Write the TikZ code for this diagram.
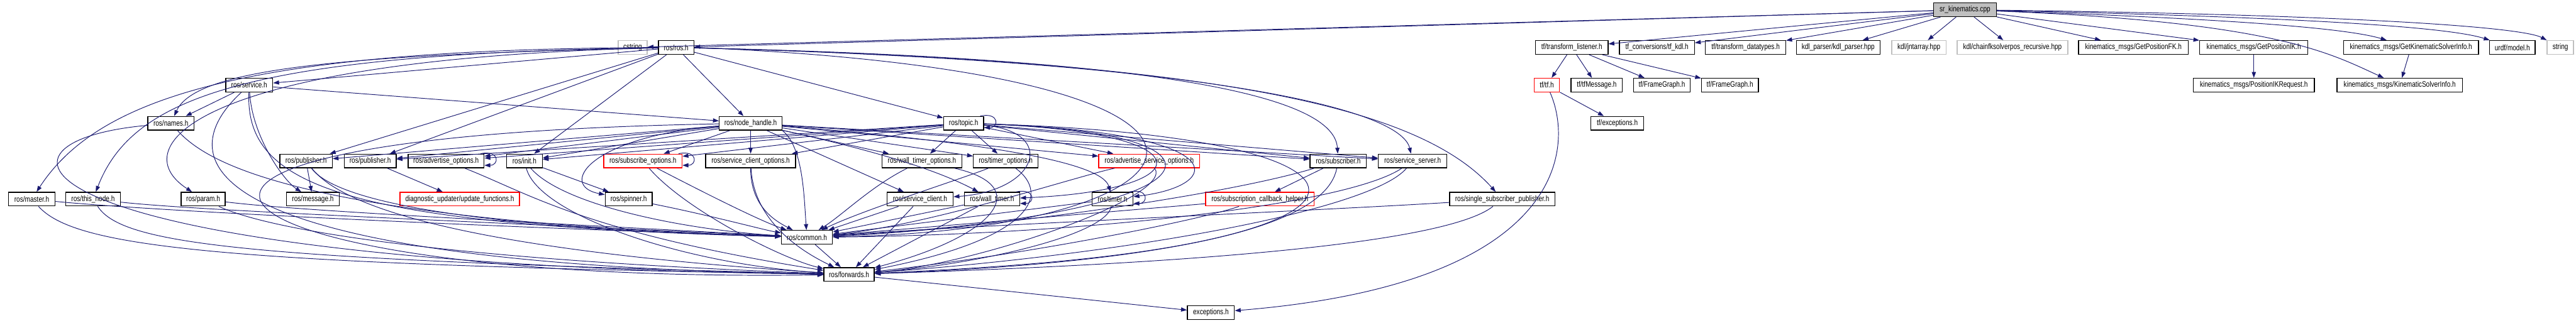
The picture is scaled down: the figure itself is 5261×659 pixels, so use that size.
\documentclass[tikz,border=0pt]{standalone}
\usepackage{fontspec}
\setmainfont{Liberation Sans}[FakeStretch=0.8]
\usetikzlibrary{arrows.meta}
\definecolor{EdgeBlue}{HTML}{191970}
\definecolor{ExtGray}{HTML}{BFBFBF}
\definecolor{RootGray}{HTML}{BFBFBF}
\definecolor{TruncRed}{HTML}{FF0000}

\begin{document}
\begin{tikzpicture}[x=0.01cm, y=-0.01cm,
  hdr/.style={draw=black, line width=0.5pt, minimum height=0.28cm, inner sep=0pt,
              font=\fontsize{4.6}{5.5}\selectfont},
  ext/.style={hdr, draw=ExtGray},
  trunc/.style={hdr, draw=TruncRed},
  wd/.style={minimum width=#1*0.01cm},
  dep/.style={draw=EdgeBlue, line width=0.35pt, -{Triangle[length=0.12cm, width=0.085cm]}}
]
\useasboundingbox (0,0) rectangle (5261,659);

% rank 0 and 1
\node[hdr, fill=RootGray, wd=128] (sr) at (4013,20) {sr\_kinematics.cpp};
\node[ext, wd=59]   (cstring) at (1292,97) {cstring};
\node[hdr, wd=72]   (rosh)    at (1381,97) {ros/ros.h};
\node[hdr, wd=148]  (tflis)   at (3210,97) {tf/transform\_listener.h};
\node[hdr, wd=153]  (tfkdl)   at (3384,97) {tf\_conversions/tf\_kdl.h};
\node[hdr, wd=164]  (tfdt)    at (3565,97) {tf/transform\_datatypes.h};
\node[hdr, wd=171]  (kdlp)    at (3754,97) {kdl\_parser/kdl\_parser.hpp};
\node[ext, wd=111]  (jnt)     at (3919,97) {kdl/jntarray.hpp};
\node[ext, wd=226]  (chain)   at (4110,97) {kdl/chainfksolverpos\_recursive.hpp};
\node[hdr, wd=224]  (getfk)   at (4357,97) {kinematics\_msgs/GetPositionFK.h};
\node[hdr, wd=221]  (getik)   at (4603,97) {kinematics\_msgs/GetPositionIK.h};
\node[hdr, wd=276]  (getksi)  at (4924,97) {kinematics\_msgs/GetKinematicSolverInfo.h};
\node[hdr, wd=93]   (urdf)    at (5131,97) {urdf/model.h};
\node[ext, wd=54]   (string)  at (5229,97) {string};

% rank 2 and 3
\node[hdr, wd=96]   (service) at (509,174)  {ros/service.h};
\node[trunc, wd=52] (tfh)     at (3159,174) {tf/tf.h};
\node[hdr, wd=105]  (tfmsg)   at (3261,174) {tf/tfMessage.h};
\node[hdr, wd=116]  (fga)     at (3394,174) {tf/FrameGraph.h};
\node[hdr, wd=116]  (fgb)     at (3533,174) {tf/FrameGraph.h};
\node[hdr, wd=247]  (ikreq)   at (4603,174) {kinematics\_msgs/PositionIKRequest.h};
\node[hdr, wd=256]  (ksi)     at (4901,174) {kinematics\_msgs/KinematicSolverInfo.h};
\node[hdr, wd=94]   (names)   at (349,252)  {ros/names.h};
\node[hdr, wd=128]  (nh)      at (1533,252) {ros/node\_handle.h};
\node[hdr, wd=82]   (topic)   at (1968,252) {ros/topic.h};
\node[hdr, wd=108]  (tfexc)   at (3303,252) {tf/exceptions.h};

% rank 4
\node[hdr, wd=107]   (puba)   at (625,329)  {ros/publisher.h};
\node[hdr, wd=106]   (pubb)   at (756,329)  {ros/publisher.h};
\node[hdr, wd=155]   (advopt) at (911,329)  {ros/advertise\_options.h};
\node[hdr, wd=73]    (init)   at (1071,329) {ros/init.h};
\node[trunc, wd=160] (subopt) at (1313,329) {ros/subscribe\_options.h};
\node[hdr, wd=184]   (scopt)  at (1533,329) {ros/service\_client\_options.h};
\node[hdr, wd=163]   (wtopt)  at (1883,329) {ros/wall\_timer\_options.h};
\node[hdr, wd=132]   (topt)   at (2054,329) {ros/timer\_options.h};
\node[trunc, wd=206] (asopt)  at (2347,329) {ros/advertise\_service\_options.h};
\node[hdr, wd=115]   (sub)    at (2733,329) {ros/subscriber.h};
\node[hdr, wd=140]   (ssrv)   at (2885,329) {ros/service\_server.h};

% rank 5 to 8
\node[hdr, wd=95]    (master)   at (65,407)   {ros/master.h};
\node[hdr, wd=112]   (thisnode) at (190,407)  {ros/this\_node.h};
\node[hdr, wd=90]    (param)    at (415,407)  {ros/param.h};
\node[hdr, wd=108]   (msg)      at (639,407)  {ros/message.h};
\node[trunc, wd=244] (diag)     at (939,407)  {diagnostic\_updater/update\_functions.h};
\node[hdr, wd=96]    (spin)     at (1284,407) {ros/spinner.h};
\node[hdr, wd=135]   (sclient)  at (1879,407) {ros/service\_client.h};
\node[hdr, wd=113]   (wtimer)   at (2026,407) {ros/wall\_timer.h};
\node[hdr, wd=84]    (timer)    at (2272,407) {ros/timer.h};
\node[trunc, wd=222] (schelp)   at (2573,407) {ros/subscription\_callback\_helper.h};
\node[hdr, wd=215]   (ssp)      at (3068,407) {ros/single\_subscriber\_publisher.h};
\node[hdr, wd=104]   (common)   at (1648,485) {ros/common.h};
\node[hdr, wd=103]   (fwd)      at (1734,561) {ros/forwards.h};
\node[hdr, wd=96]    (exc)      at (2473,639) {exceptions.h};

% sr_kinematics.cpp
\draw[dep] (sr) -- (cstring);
\draw[dep] (sr) -- (rosh);
\draw[dep] (sr) -- (tflis);
\draw[dep] (sr) -- (tfkdl);
\draw[dep] (sr) -- (tfdt);
\draw[dep] (sr) -- (kdlp);
\draw[dep] (sr) -- (jnt);
\draw[dep] (sr) -- (chain);
\draw[dep] (sr) -- (getfk);
\draw[dep] (sr) -- (getik);
\draw[dep] (sr) .. controls (4600,40) and (4800,60) .. (getksi);
\draw[dep] (sr) .. controls (4700,35) and (5000,55) .. (urdf);
\draw[dep] (sr) .. controls (4800,30) and (5150,55) .. (string);
\draw[dep] (sr) .. controls (4650,45) and (4760,110) .. (ksi);

% tf and kinematics_msgs
\draw[dep] (tflis) -- (tfh);
\draw[dep] (tflis) -- (tfmsg);
\draw[dep] (tflis) -- (fga);
\draw[dep] (tflis) -- (fgb);
\draw[dep] (tfh) -- (tfexc);
\draw[dep] (tfh) .. controls (3215,300) and (3200,580) .. (exc);
\draw[dep] (getik) -- (ikreq);
\draw[dep] (getksi) -- (ksi);

% ros/ros.h
\draw[dep] (rosh) .. controls (700,112) and (400,140) .. (names);
\draw[dep] (rosh) -- (service);
\draw[dep] (rosh) .. controls (500,100) and (200,200) .. (master);
\draw[dep] (rosh) .. controls (500,110) and (270,200) .. (thisnode);
\draw[dep] (rosh) .. controls (400,120) and (250,300) .. (param);
\draw[dep] (rosh) -- (puba);
\draw[dep] (rosh) -- (pubb);
\draw[dep] (rosh) -- (init);
\draw[dep] (rosh) -- (nh);
\draw[dep] (rosh) -- (topic);
\draw[dep] (rosh) .. controls (2400,120) and (2725,200) .. (sub);
\draw[dep] (rosh) .. controls (2450,125) and (2860,220) .. (ssrv);
\draw[dep] (rosh) .. controls (2500,125) and (2900,220) .. (ssp);
\draw[dep] (rosh.east) .. controls (2700,150) and (2500,470) .. (common);

% ros/service.h and ros/names.h
\draw[dep] (service) -- (names);
\draw[dep] (service) .. controls (515,280) and (580,370) .. (msg);
\draw[dep] (service) -- (nh);
\draw[dep] (service) .. controls (500,380) and (700,460) .. (common);
\draw[dep] (service) .. controls (340,330) and (400,540) .. (fwd);
\draw[dep] (names) .. controls (-80,290) and (20,540) .. (fwd);
\draw[dep] (names) .. controls (420,330) and (600,450) .. (common);

% ros/node_handle.h
\draw[dep] (nh) -- (puba);
\draw[dep] (nh) -- (pubb);
\draw[dep] (nh) -- (advopt);
\draw[dep] (nh) -- (init);
\draw[dep] (nh) -- (subopt);
\draw[dep] (nh) -- (scopt);
\draw[dep] (nh) -- (wtopt);
\draw[dep] (nh) -- (topt);
\draw[dep] (nh) -- (asopt);
\draw[dep] (nh) -- (sub);
\draw[dep] (nh) -- (ssrv);
\draw[dep] (nh) .. controls (1200,280) and (1140,380) .. (spin);
\draw[dep] (nh) -- (sclient);
\draw[dep] (nh) .. controls (1750,300) and (1900,340) .. (wtimer);
\draw[dep] (nh) .. controls (2000,290) and (2250,330) .. (timer);
\draw[dep] (nh.south east) .. controls (1640,300) and (1642,400) .. (common);
\draw[dep] (nh) .. controls (0,280) and (400,580) .. (fwd);

% ros/topic.h
\draw[dep] ([xshift=-0.08cm]topic.north east) .. controls +(40,-8) and +(30,0) .. ([yshift=0.06cm]topic.south east);
\draw[dep] (topic) -- (wtopt);
\draw[dep] (topic) -- (topt);
\draw[dep] (topic) -- (asopt);
\draw[dep] (topic) -- (advopt);
\draw[dep] (topic) -- (subopt);
\draw[dep] (topic) -- (scopt);
\draw[dep] (topic) -- (init);
\draw[dep] (topic) -- (pubb);
\draw[dep] (topic) -- (sub);
\draw[dep] (topic) -- (ssrv);
\draw[dep] (topic) .. controls (2160,270) and (2120,390) .. (sclient);
\draw[dep] (topic) .. controls (2480,270) and (2450,390) .. (wtimer);
\draw[dep] (topic) .. controls (2530,270) and (2500,380) .. (timer);
\draw[dep] (topic) .. controls (2580,270) and (2500,440) .. (common);
\draw[dep] (topic) .. controls (2950,280) and (2900,520) .. (fwd);

% rank 4
\draw[dep] (puba) -- (msg);
\draw[dep] (puba) .. controls (700,430) and (1100,470) .. (common);
\draw[dep] (puba) .. controls (720,450) and (1100,520) .. (fwd);
\draw[dep] (pubb) -- (diag);
\draw[dep] ([xshift=-0.08cm]advopt.north east) .. controls +(40,-8) and +(30,0) .. ([yshift=0.06cm]advopt.south east);
\draw[dep] (advopt) .. controls (1080,395) and (1194,475) .. (fwd);
\draw[dep] (init) -- (spin);
\draw[dep] (init) .. controls (1150,420) and (1400,470) .. (common);
\draw[dep] (init) .. controls (1100,440) and (1400,540) .. (fwd);
\draw[dep] ([xshift=-0.08cm]subopt.north east) .. controls +(40,-8) and +(30,0) .. ([yshift=0.06cm]subopt.south east);
\draw[dep] (subopt) .. controls (1450,400) and (1550,450) .. (common);
\draw[dep] (subopt) .. controls (1400,430) and (1600,530) .. (fwd);
\draw[dep] (scopt) .. controls (1533,420) and (1580,450) .. (common);
\draw[dep] (scopt) .. controls (1540,460) and (1650,520) .. (fwd);
\draw[dep] (wtopt) .. controls (1780,380) and (1720,440) .. (common);
\draw[dep] (wtopt) .. controls (2110,380) and (2040,480) .. (fwd);
\draw[dep] (topt) .. controls (1980,360) and (1760,430) .. (common);
\draw[dep] (topt) .. controls (2150,400) and (2100,490) .. (fwd);
\draw[dep] (asopt) .. controls (2200,360) and (1900,460) .. (common);
\draw[dep] (asopt) .. controls (2400,400) and (2000,540) .. (fwd);
\draw[dep] (sub) -- (schelp);
\draw[dep] (sub) .. controls (2500,400) and (2000,470) .. (common);
\draw[dep] (sub) .. controls (2700,500) and (2200,540) .. (fwd);
\draw[dep] (ssrv) .. controls (2750,420) and (2200,480) .. (common);
\draw[dep] (ssrv) .. controls (2800,430) and (2300,520) .. (fwd);

% rank 5
\draw[dep] (master) .. controls (300,430) and (900,460) .. (common);
\draw[dep] (master) .. controls (150,500) and (400,540) .. (fwd);
\draw[dep] (thisnode) .. controls (400,430) and (900,450) .. (common);
\draw[dep] (thisnode) .. controls (250,500) and (500,530) .. (fwd);
\draw[dep] (param) .. controls (600,430) and (1000,450) .. (common);
\draw[dep] (param) .. controls (550,470) and (900,530) .. (fwd);
\draw[dep] (spin) .. controls (1450,440) and (1560,470) .. (common);
\draw[dep] (sclient) -- (common);
\draw[dep] (sclient) -- (fwd);
\draw[dep] ([xshift=-0.08cm]wtimer.north east) .. controls +(40,-8) and +(30,0) .. ([yshift=0.06cm]wtimer.south east);
\draw[dep] (wtimer) -- (common);
\draw[dep] (wtimer) -- (fwd);
\draw[dep] ([xshift=-0.08cm]timer.north east) .. controls +(40,-8) and +(30,0) .. ([yshift=0.06cm]timer.south east);
\draw[dep] (timer) -- (common);
\draw[dep] (timer) .. controls (2260,480) and (2000,540) .. (fwd);
\draw[dep] (schelp) -- (common);
\draw[dep] (schelp) .. controls (2450,450) and (2100,520) .. (fwd);
\draw[dep] (ssp) .. controls (2700,430) and (2000,460) .. (common);
\draw[dep] (ssp) .. controls (2950,500) and (2400,540) .. (fwd);

% bottom
\draw[dep] (common) -- (fwd);
\draw[dep] (fwd) -- (exc);

\end{tikzpicture}
\end{document}
